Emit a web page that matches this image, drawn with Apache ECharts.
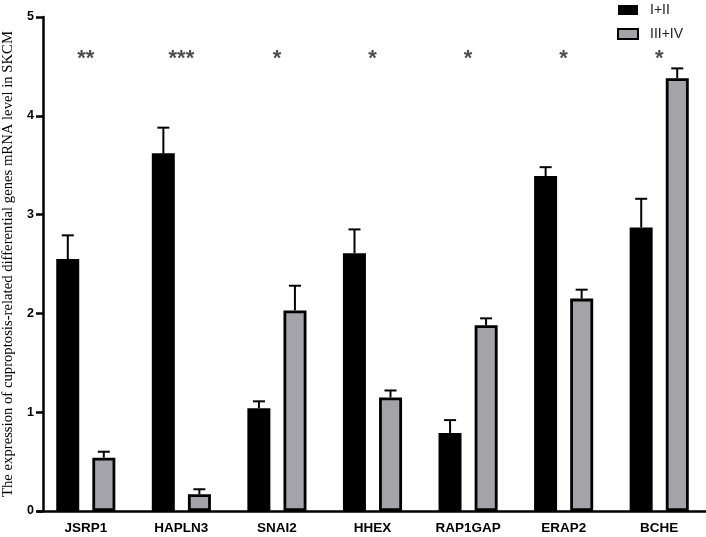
<!DOCTYPE html>
<html>
<head>
<meta charset="utf-8">
<script src="https://cdn.jsdelivr.net/npm/echarts@6/dist/echarts.min.js"></script>
<style>
  html, body { margin: 0; padding: 0; background: #fff; }
  #chart { width: 706px; height: 537px; }
</style>
</head>
<body>
<div id="chart"></div>
<script>
// values
var genes = ['JSRP1', 'HAPLN3', 'SNAI2', 'HHEX', 'RAP1GAP', 'ERAP2', 'BCHE'];
var earlyMean = [2.55, 3.62, 1.04, 2.61, 0.79, 3.39, 2.87];
var earlyUpper = [2.79, 3.88, 1.11, 2.85, 0.92, 3.48, 3.16];
var lateMean = [0.54, 0.17, 2.03, 1.15, 1.88, 2.15, 4.38];
var lateUpper = [0.60, 0.22, 2.28, 1.22, 1.95, 2.24, 4.48];
var sigMarks = ['**', '***', '*', '*', '*', '*', '*'];
var sigLevel = 4.58;
var yTicks = [0, 1, 2, 3, 4, 5];

var BAR_W = 23;
var OFFSET = 18; // half distance between the two bar centres
var yMin = yTicks[0], yMax = yTicks[yTicks.length - 1];

function errSeries(mean, upper, dx) {
  return {
    type: 'custom',
    silent: true,
    z: 1,
    data: mean.map(function (m, i) { return [i, m, upper[i]]; }),
    renderItem: function (params, api) {
      var lo = api.coord([api.value(0), api.value(1)]);
      var hi = api.coord([api.value(0), api.value(2)]);
      var x = lo[0] + dx;
      return {
        type: 'group',
        children: [
          { type: 'line', shape: { x1: x, y1: lo[1], x2: x, y2: hi[1] },
            style: { stroke: '#000', lineWidth: 2 } },
          { type: 'line', shape: { x1: x - 6, y1: hi[1], x2: x + 6, y2: hi[1] },
            style: { stroke: '#000', lineWidth: 2 } }
        ]
      };
    }
  };
}

var chart = echarts.init(document.getElementById('chart'));
chart.setOption({
  animation: false,
  // grid 0 holds the bars, grid 1 only carries the visible y axis (same scale)
  grid: [
    { left: 38, width: 669, top: 17, bottom: 26, outerBoundsMode: 'none' },
    { left: 43, right: 0, top: 17, bottom: 26, outerBoundsMode: 'none' }
  ],
  legend: {
    orient: 'vertical',
    left: 612,
    top: -2,
    itemGap: 10,
    icon: 'rect',
    itemWidth: 20,
    itemHeight: 10,
    textStyle: { fontFamily: 'Liberation Sans', fontSize: 14, color: '#222', padding: [0, 0, 0, 7] },
    data: ['I+II', 'III+IV']
  },
  xAxis: [
    {
      type: 'category',
      gridIndex: 0,
      data: genes,
      axisLine: { lineStyle: { color: '#000', width: 2.5 } },
      axisTick: { alignWithLabel: true, length: 8, lineStyle: { color: '#000', width: 2.5 } },
      axisLabel: { fontFamily: 'Liberation Sans', fontWeight: 'bold', fontSize: 13.5, color: '#000', margin: 10 }
    },
    { type: 'value', gridIndex: 1, show: false }
  ],
  yAxis: [
    { type: 'value', gridIndex: 0, min: yMin, max: yMax, show: false },
    {
      type: 'value',
      gridIndex: 1,
      min: yMin,
      max: yMax,
      interval: 1,
      name: 'The expression of cuproptosis-related differential genes mRNA level in SKCM',
      nameLocation: 'middle',
      nameGap: 25,
      nameTextStyle: { fontFamily: 'Liberation Serif', fontSize: 14.7, color: '#000' },
      axisLine: { show: true, lineStyle: { color: '#000', width: 2.5 } },
      axisTick: { show: true, length: 7, lineStyle: { color: '#000', width: 2.5 } },
      axisLabel: { fontFamily: 'Liberation Sans', fontWeight: 'bold', fontSize: 12.5, color: '#000', margin: 9 },
      splitLine: { show: false }
    }
  ],
  series: [
    {
      name: 'I+II',
      type: 'bar',
      z: 2,
      barWidth: BAR_W,
      barGap: '57%',
      data: earlyMean,
      itemStyle: { color: '#000', borderColor: '#000', borderWidth: 0 }
    },
    {
      name: 'III+IV',
      type: 'bar',
      z: 2,
      barWidth: BAR_W,
      data: lateMean,
      itemStyle: { color: '#a4a3a9', borderColor: '#000', borderWidth: 2.8 }
    },
    errSeries(earlyMean, earlyUpper, -OFFSET),
    errSeries(lateMean, lateUpper, OFFSET),
    {
      type: 'scatter',
      silent: true,
      symbolSize: 0,
      data: sigMarks.map(function (s, i) { return [i, sigLevel]; }),
      label: {
        show: true,
        position: 'inside',
        formatter: function (p) { return sigMarks[p.dataIndex]; },
        fontFamily: 'Liberation Sans',
        fontWeight: 'bold',
        fontSize: 22,
        color: '#222'
      }
    }
  ]
});
</script>
</body>
</html>
